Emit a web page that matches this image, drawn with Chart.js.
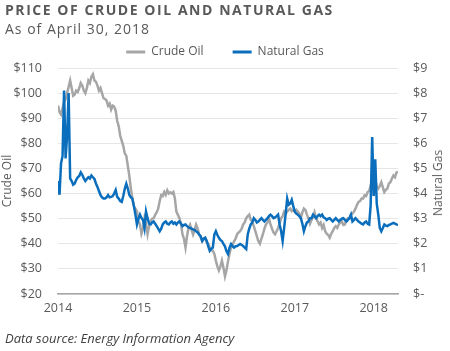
<!DOCTYPE html>
<html><head><meta charset="utf-8">
<script src="https://cdn.jsdelivr.net/npm/chart.js@4.4.1/dist/chart.umd.min.js"></script>
<style>
html,body{margin:0;padding:0;background:#fff;}
#wrap{position:relative;width:450px;height:351px;overflow:hidden;font-family:"Open Sans",sans-serif;color:#595959;}
#c{position:absolute;left:0;top:0;}
.t{position:absolute;white-space:nowrap;line-height:1;}
#title{left:5px;top:3px;font-size:14px;font-weight:700;letter-spacing:1.55px;}
#sub{left:5px;top:22px;font-size:14px;letter-spacing:1.0px;}
#src{left:5px;top:332px;font-size:13px;font-style:italic;color:#404040;}
#y2t{left:438px;top:183px;font-size:12px;transform:translate(-50%,-50%) rotate(-90deg);}
</style></head>
<body>
<div id="wrap">
<canvas id="c" width="450" height="351"></canvas>
<div class="t" id="title">PRICE OF CRUDE OIL AND NATURAL GAS</div>
<div class="t" id="sub">As of April 30, 2018</div>
<div class="t" id="y2t">Natural Gas</div>
<div class="t" id="src">Data source: Energy Information Agency</div>
</div>
<script>
// Weekly readings, first week of Jan 2014 through end of April 2018
const crudeOil = [
 95.1, 92.5, 91.5, 94, 96.5, 97.5, 100, 102.5, 105, 102,
 99, 99.5, 101, 100.5, 102, 104, 103, 101, 100, 102,
 105, 104, 106.5, 107.5, 105, 104.5, 103, 101, 102, 100,
 98, 97.7, 97, 95, 95.8, 93.5, 95, 94.6, 93, 89,
 86.8, 83, 81, 79, 76, 75, 71, 67, 62, 58,
 55, 54, 53, 49, 47.7, 44, 46, 50.2, 48, 43.8,
 47, 48.9, 50, 50.2, 51.5, 52.5, 54, 57, 59.4, 59,
 60.6, 59.5, 61.3, 60, 60.5, 60, 60.6, 58, 52.8, 51.5,
 50.2, 48, 43.8, 42, 38.5, 43, 46.3, 47.6, 45.5, 43.7,
 45.5, 47.6, 46, 43.8, 42.5, 41, 42, 42.4, 40.5, 40,
 38.5, 37.5, 37.2, 36, 33.3, 31, 29.4, 31, 33.3, 30.5,
 27, 29.5, 33, 36, 38.5, 39.5, 41, 42, 43.8, 44.5,
 45, 46, 47.7, 48.5, 50.2, 51, 51.6, 49.5, 48.9, 47,
 45, 43, 41, 40, 42, 43.8, 46, 47.7, 48.5, 50.2,
 47.7, 46, 44.5, 43.8, 45, 46.3, 48, 50.2, 51, 52.8,
 52, 52.8, 53.5, 54, 53, 53.5, 52.8, 53.5, 52.8, 52,
 50.2, 52.5, 54, 53.5, 51.6, 50, 48, 49.5, 50.5, 52.5,
 50.2, 49, 47.7, 48.5, 46.3, 47.5, 45, 44, 43.5, 42.4,
 44, 45, 46.3, 47, 46.3, 47.7, 48.5, 48.9, 47.5, 47.7,
 49.5, 50.2, 50, 51.6, 52, 52.8, 54, 55.5, 56.7, 57,
 58, 58, 59.3, 59, 60.6, 61, 63.3, 63.5, 64.5, 65.8,
 63, 62, 63, 64.5, 62.5, 60.6, 61.5, 62, 64, 64.5,
 66, 67.2, 66.5, 68.4, 68.6
];
const naturalGas = [
 4.5, 3.95, 5.2, 5.5, 8.1, 5.4, 6.3, 8.0, 4.6, 4.5,
 4.35, 4.4, 4.55, 4.65, 4.7, 4.84, 4.75, 4.6, 4.5, 4.58,
 4.65, 4.6, 4.72, 4.65, 4.58, 4.4, 4.26, 4.1, 3.94, 3.85,
 3.8, 3.8, 3.85, 3.94, 3.85, 3.87, 3.9, 4.0, 4.14, 3.87,
 3.8, 3.7, 3.67, 3.9, 4.19, 4.39, 4.2, 3.94, 3.85, 3.8,
 3.5, 3.16, 2.77, 3.0, 3.16, 3.02, 2.95, 2.63, 3.28, 3.02,
 2.8, 2.77, 2.85, 2.89, 2.8, 2.7, 2.6, 2.5, 2.6, 2.77,
 2.85, 2.89, 2.8, 2.77, 2.85, 2.89, 2.8, 2.85, 2.77, 2.85,
 2.89, 2.8, 2.7, 2.75, 2.77, 2.7, 2.65, 2.63, 2.6, 2.57,
 2.55, 2.5, 2.45, 2.37, 2.3, 2.11, 2.2, 2.24, 2.11, 1.9,
 1.72, 1.8, 1.85, 2.37, 2.5, 2.35, 2.24, 2.15, 2.11, 2.0,
 1.9, 1.7, 1.59, 1.85, 1.99, 1.9, 1.85, 1.9, 1.91, 1.95,
 1.99, 1.95, 1.91, 1.85, 1.79, 2.37, 2.6, 2.77, 2.85, 3.02,
 2.95, 2.85, 2.89, 2.95, 3.02, 2.95, 2.89, 2.95, 3.02, 3.1,
 3.16, 3.1, 3.02, 3.05, 3.1, 3.16, 2.77, 2.5, 2.11, 2.63,
 3.2, 3.8, 3.55, 3.6, 3.75, 3.5, 3.28, 3.2, 3.16, 3.1,
 3.02, 2.8, 2.5, 2.7, 2.85, 2.89, 3.02, 3.02, 3.16, 3.1,
 3.02, 3.1, 3.16, 3.1, 3.16, 3.05, 3.02, 2.95, 3.0, 3.02,
 2.95, 2.89, 2.95, 3.02, 2.95, 2.89, 2.95, 3.0, 3.02, 2.95,
 2.89, 2.95, 3.02, 3.16, 2.89, 2.95, 3.02, 2.95, 2.89, 2.85,
 2.8, 2.77, 2.85, 2.89, 2.8, 2.77, 3.55, 6.25, 3.9, 5.36,
 3.6, 3.16, 2.63, 2.5, 2.63, 2.77, 2.72, 2.7, 2.75, 2.77,
 2.8, 2.83, 2.8, 2.77, 2.75
];
const yearTicks = [2014, 2015, 2016, 2017, 2018];
const oilTicks = [20, 30, 40, 50, 60, 70, 80, 90, 100, 110];
const gasTicks = [0, 1, 2, 3, 4, 5, 6, 7, 8, 9];
const seriesNames = ['Crude Oil', 'Natural Gas'];

const startYear = yearTicks[0];
const weekPos = crudeOil.map((_, i) => startYear + i / 52);
const txt = '#595959';
const font = {family: '"Open Sans", sans-serif', size: 12};

new Chart(document.getElementById('c'), {
  type: 'line',
  data: {
    datasets: [
      {label: seriesNames[0], data: crudeOil.map((v, i) => ({x: weekPos[i], y: v})), yAxisID: 'y',
       borderColor: '#a6a6a6', borderWidth: 2.5, pointRadius: 0, tension: 0, order: 2},
      {label: seriesNames[1], data: naturalGas.map((v, i) => ({x: weekPos[i], y: v})), yAxisID: 'y2',
       borderColor: '#0a6ebd', borderWidth: 2.5, pointRadius: 0, tension: 0, order: 1}
    ]
  },
  options: {
    responsive: false,
    animation: false,
    layout: {padding: {top: 17, bottom: 28, left: 0, right: 0}},
    plugins: {
      tooltip: {enabled: false},
      legend: {
        position: 'top',
        labels: {
          boxWidth: 19, boxHeight: 3, padding: 29, color: txt, font: font,
          generateLabels: chart => chart.data.datasets.map((ds, i) => ({
            text: ds.label, fillStyle: ds.borderColor, strokeStyle: ds.borderColor,
            lineWidth: 0, hidden: false, datasetIndex: i, fontColor: txt
          }))
        }
      }
    },
    scales: {
      x: {
        type: 'linear',
        min: startYear,
        max: weekPos[weekPos.length - 1],
        afterBuildTicks: s => { s.ticks = yearTicks.map(v => ({value: v})); },
        ticks: {callback: v => String(v), color: txt, font: {family: font.family, size: 12.5}, padding: 7, maxRotation: 0, autoSkip: false},
        grid: {display: false, drawTicks: false},
        border: {display: true, color: '#a6a6a6', width: 1.5}
      },
      y: {
        position: 'left',
        min: oilTicks[0], max: oilTicks[oilTicks.length - 1],
        afterBuildTicks: s => { s.ticks = oilTicks.map(v => ({value: v})); },
        afterFit: s => { s.width = 58; },
        ticks: {callback: v => '$' + v, color: txt, font: {family: font.family, size: 12.5}, padding: 16},
        grid: {color: '#e6e6e6', lineWidth: 1, drawTicks: false},
        border: {display: false},
        title: {display: true, text: 'Crude Oil', color: txt, font: font, padding: 0}
      },
      y2: {
        position: 'right',
        min: gasTicks[0], max: gasTicks[gasTicks.length - 1],
        afterBuildTicks: s => { s.ticks = gasTicks.map(v => ({value: v})); },
        afterFit: s => { s.width = 52; },
        ticks: {callback: v => v === 0 ? '$-' : '$' + v, color: txt, font: {family: font.family, size: 12.5}, padding: 15},
        grid: {display: false, drawTicks: false},
        border: {display: false}
      }
    }
  }
});
</script>
</body></html>
